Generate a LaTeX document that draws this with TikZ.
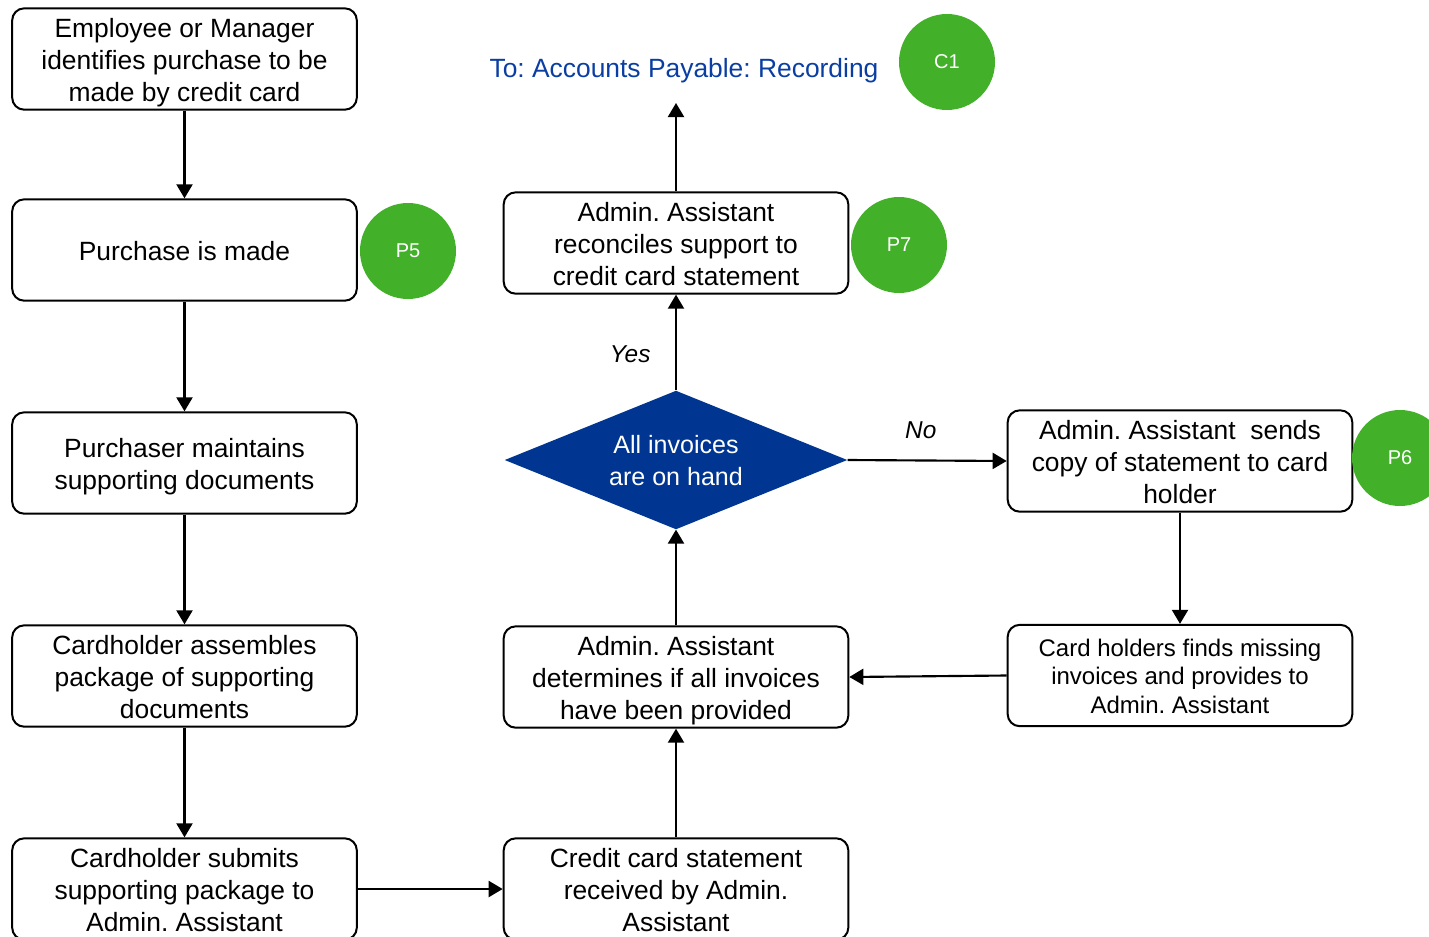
\documentclass[tikz,border=0pt]{standalone}
\usepackage{fontspec}
\setmainfont{Liberation Sans}
\frenchspacing
\usetikzlibrary{arrows.meta,shapes.geometric}
\definecolor{stepgreen}{HTML}{43B02A}
\definecolor{decisionblue}{HTML}{003591}
\definecolor{linkblue}{HTML}{0A3EA3}

% struts: fixed height for the first line, fixed depth for the last line
\newcommand{\hstrut}{\rule{0pt}{1.05em}}
\newcommand{\dstrut}{\rule[-0.27em]{0pt}{0.27em}}

\begin{document}
\begin{tikzpicture}[x=0.75pt,y=-0.75pt,
  procbox/.style={draw=black, line width=1.5pt, rounded corners=9pt,
    minimum width=258.5pt, minimum height=76pt, inner sep=0pt,
    align=center, font=\fontsize{19.8}{24}\selectfont},
  smallbox/.style={procbox, font=\fontsize{18}{21.4}\selectfont},
  decision/.style={diamond, aspect=2.47, fill=decisionblue, text=white,
    minimum width=257pt, minimum height=104pt, inner sep=0pt,
    align=center, font=\fontsize{18.8}{24}\selectfont},
  badge/.style={circle, fill=stepgreen, text=white, minimum size=72pt,
    inner sep=0pt, font=\fontsize{15}{18}\selectfont},
  flow/.style={line width=1.6pt, -{Triangle[length=10.5pt,width=12pt]}},
  branch/.style={font=\fontsize{18.3}{22}\selectfont\itshape},
  linktext/.style={text=linkblue, font=\fontsize{19.8}{23}\selectfont}
]
\clip (0,0) rectangle (1429,936);

% left column
\node[procbox] (identify) at (184.5,59) {\hstrut Employee or Manager\\identifies purchase to be\\made by credit card\dstrut};
\node[procbox] (purchase) at (184.5,250) {\hstrut Purchase is made\dstrut};
\node[procbox] (maintain) at (184.5,463) {\hstrut Purchaser maintains\\supporting documents\dstrut};
\node[procbox] (assemble) at (184.5,676) {\hstrut Cardholder assembles\\package of supporting\\documents\dstrut};
\node[procbox] (submit) at (184.5,889) {\hstrut Cardholder submits\\supporting package to\\Admin. Assistant\dstrut};

% middle column
\node[procbox] (received) at (676,889) {\hstrut Credit card statement\\received by Admin.\\Assistant\dstrut};
\node[procbox] (determine) at (676,677) {\hstrut Admin. Assistant\\determines if all invoices\\have been provided\dstrut};
\node[decision] (onhand) at (676,460) {\hstrut All invoices\\are on hand\dstrut};
\node[procbox] (reconcile) at (676,243) {\hstrut Admin. Assistant\\reconciles support to\\credit card statement\dstrut};
\coordinate (toap) at (676,103);
\node[linktext] (aplink) at (684,71) {To: Accounts Payable: Recording};

% right column
\node[procbox] (sendcopy) at (1180,461) {\hstrut Admin. Assistant~~sends\\copy of statement to card\\holder\dstrut};
\node[smallbox] (finds) at (1180,675.5) {\hstrut Card holders finds missing\\invoices and provides to\\Admin. Assistant\dstrut};

% step badges
\node[badge] (p5) at (408,251) {P5};
\node[badge] (p7) at (899,245) {P7};
\node[badge] (c1) at (947,62) {C1};
\node[badge] (p6) at (1400,458) {P6};

% connectors
\draw[flow] (identify) -- (purchase);
\draw[flow] (purchase) -- (maintain);
\draw[flow] (maintain) -- (assemble);
\draw[flow] (assemble) -- (submit);
\draw[flow] (submit) -- (received);
\draw[flow] (received) -- (determine);
\draw[flow] (determine) -- (onhand);
\draw[flow] (onhand) -- node[branch, left=15pt, pos=0.38] (yes) {Yes} (reconcile);
\draw[flow] (reconcile) -- (toap);
\draw[flow] (onhand.east) -- node[branch, above=12.5pt, pos=0.46] (no) {No} (sendcopy.west);
\draw[flow] (sendcopy) -- (finds);
\draw[flow] (finds.west) -- (determine.east);
\end{tikzpicture}
\end{document}
